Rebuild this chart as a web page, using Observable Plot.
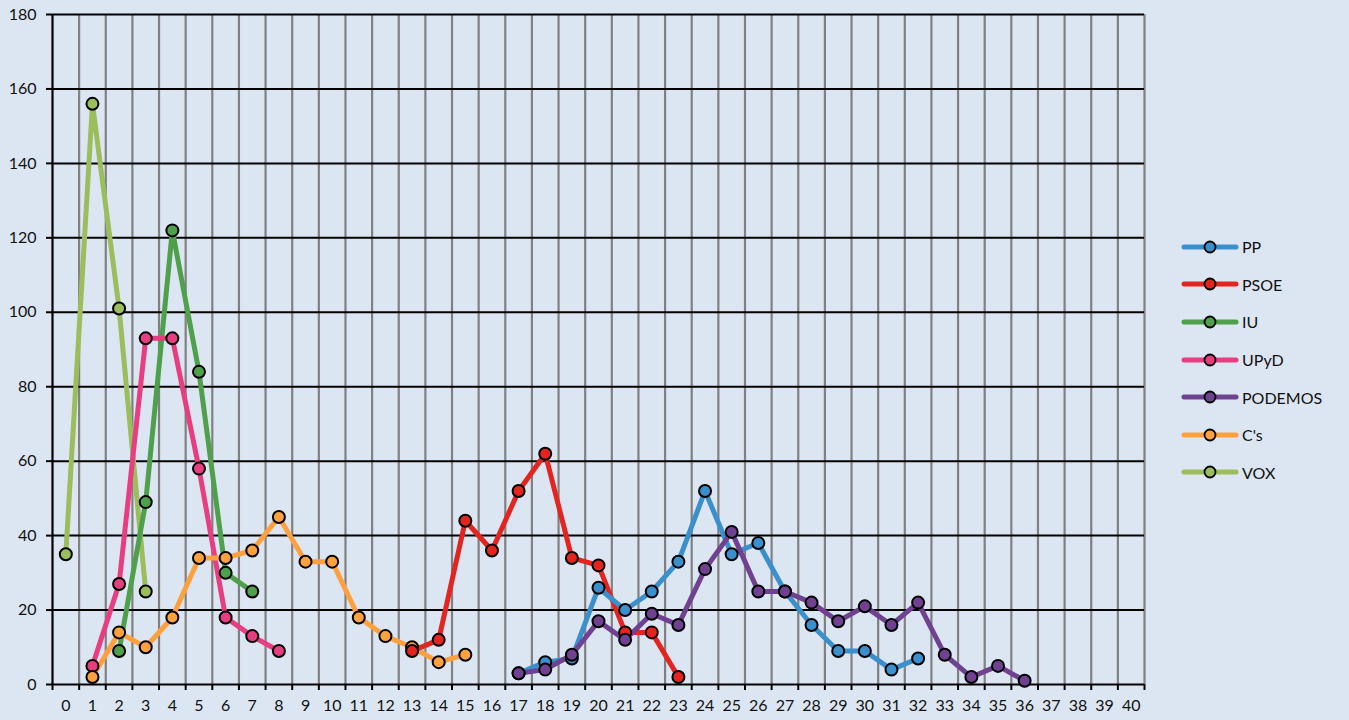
<!DOCTYPE html>
<html>
<head>
<meta charset="utf-8">
<script src="https://cdn.jsdelivr.net/npm/d3@7"></script>
<script src="https://cdn.jsdelivr.net/npm/@observablehq/plot@0.6"></script>
<style>
  html, body { margin: 0; padding: 0; background: #dce6f2; }
  #wrap { position: relative; width: 1349px; height: 720px; background: #dce6f2; }
  #legend { position: absolute; left: 1180px; top: 228px; font-family: Lato, "DejaVu Sans", sans-serif; font-size: 16px; color: #111; }
  .row { display: flex; align-items: center; height: 37.6px; }
  .row svg { margin-right: 2px; }
</style>
</head>
<body>
<div id="wrap"><div id="legend"></div></div>
<script>
// categories on the x axis
const categories = d3.range(0, 41);
const yTicks = [0, 20, 40, 60, 80, 100, 120, 140, 160, 180];

const seriesNames = ["PP", "PSOE", "IU", "UPyD", "PODEMOS", "C's", "VOX"];
const seriesColors = ["#3a8fcd", "#e3241f", "#4ea04a", "#e83d80", "#6f4190", "#fda13e", "#9cbd5c"];

// x start of each series, and its values
const ppStart = 17;
const ppValues = [3, 6, 7, 26, 20, 25, 33, 52, 35, 38, 25, 16, 9, 9, 4, 7];
const psoeStart = 13;
const psoeValues = [9, 12, 44, 36, 52, 62, 34, 32, 14, 14, 2];
const iuStart = 2;
const iuValues = [9, 49, 122, 84, 30, 25];
const upydStart = 1;
const upydValues = [5, 27, 93, 93, 58, 18, 13, 9];
const podemosStart = 17;
const podemosValues = [3, 4, 8, 17, 12, 19, 16, 31, 41, 25, 25, 22, 17, 21, 16, 22, 8, 2, 5, 1];
const csStart = 1;
const csValues = [2, 14, 10, 18, 34, 34, 36, 45, 33, 33, 18, 13, 10, 6, 8];
const voxStart = 0;
const voxValues = [35, 156, 101, 25];

const starts = [ppStart, psoeStart, iuStart, upydStart, podemosStart, csStart, voxStart];
const valuesList = [ppValues, psoeValues, iuValues, upydValues, podemosValues, csValues, voxValues];

const data = [];
seriesNames.forEach((name, s) => {
  valuesList[s].forEach((v, i) => data.push({series: name, x: starts[s] + i, y: v}));
});

// drawing order (later drawn on top)
const drawOrder = ["VOX", "IU", "UPyD", "C's", "PSOE", "PP", "PODEMOS"];
const ordered = drawOrder.flatMap(n => data.filter(d => d.series === n));

const boundaries = categories.map(c => c - 0.5).concat([categories[categories.length - 1] + 0.5]);

const color = {domain: seriesNames, range: seriesColors};

const chart = Plot.plot({
  width: 1349,
  height: 720,
  marginLeft: 52,
  marginRight: 205,
  marginTop: 14,
  marginBottom: 36,
  style: {background: "transparent", fontFamily: "Lato, 'DejaVu Sans', sans-serif", fontSize: "16px", color: "#111"},
  x: {type: "linear", domain: [boundaries[0], boundaries[boundaries.length - 1]]},
  y: {domain: [0, 180]},
  color,
  marks: [
    Plot.ruleX(boundaries.slice(1), {stroke: "#808080", strokeWidth: 2.2}),
    Plot.ruleY(yTicks, {stroke: "#000", strokeWidth: 2}),
    Plot.ruleX([boundaries[0]], {stroke: "#000", strokeWidth: 2.2}),
    Plot.axisX(boundaries, {tickSize: 6, tickFormat: () => "", stroke: "#000", strokeWidth: 2, label: null}),
    Plot.axisX(categories, {tickSize: 0, tickPadding: 15, label: null, fontSize: 16}),
    Plot.axisY(yTicks, {tickSize: 6, tickPadding: 10, stroke: "#000", strokeWidth: 2, label: null, fontSize: 16}),
    Plot.lineY(ordered, {x: "x", y: "y", z: "series", stroke: "series", strokeWidth: 5, strokeLinejoin: "round", strokeLinecap: "round"}),
    Plot.dot(ordered, {x: "x", y: "y", fill: "series", stroke: "#000", strokeWidth: 2, r: 6})
  ]
});
document.getElementById("wrap").prepend(chart);
chart.style.position = "absolute";
chart.style.left = "0px";
chart.style.top = "0px";

// legend
const legend = document.getElementById("legend");
seriesNames.forEach((name, i) => {
  const row = document.createElement("div");
  row.className = "row";
  row.innerHTML = `<svg width="60" height="16"><line x1="4" y1="8" x2="56" y2="8" stroke="${seriesColors[i]}" stroke-width="5" stroke-linecap="round"/><circle cx="30" cy="8" r="5.5" fill="${seriesColors[i]}" stroke="#000" stroke-width="1.8"/></svg><span>${name}</span>`;
  legend.appendChild(row);
});
</script>
</body>
</html>
